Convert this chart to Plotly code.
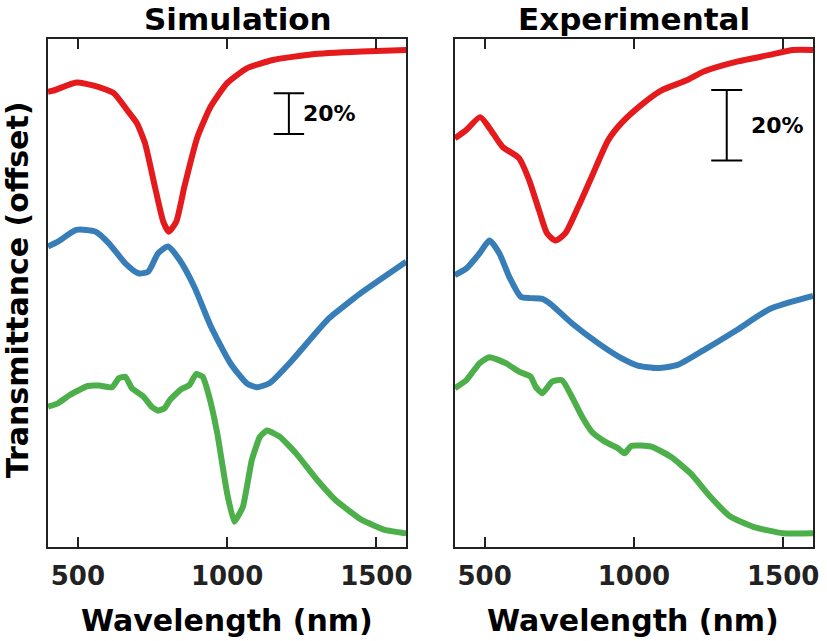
import plotly.graph_objects as go

# ---------------- data (transmittance %, offset per curve) ----------------
sim_red_nm = [400, 417, 495, 560, 621, 665, 698, 725, 758, 786, 805, 830, 857, 901, 945, 1000, 1066, 1154, 1286, 1451, 1600]
sim_red_T = [73.7, 74.2, 78.2, 76.5, 72.9, 64.7, 58.2, 48.4, 27.1, 9.9, 4.9, 9.9, 27.1, 51.6, 66.4, 77.9, 85.2, 89.3, 92.1, 93.4, 94.2]

sim_blue_nm = [400, 433, 495, 560, 604, 659, 703, 736, 769, 802, 841, 890, 945, 1011, 1066, 1099, 1143, 1209, 1286, 1341, 1418, 1451, 1600]
sim_blue_T = [72.6, 75.0, 80.8, 79.9, 74.2, 64.4, 59.5, 60.3, 69.3, 72.6, 66.0, 52.9, 33.6, 15.3, 5.4, 3.5, 5.6, 15.3, 28.3, 37.3, 46.4, 50.1, 65.2]

sim_green_nm = [400, 433, 473, 533, 571, 615, 637, 659, 681, 720, 747, 769, 791, 808, 846, 874, 896, 918, 940, 967, 1000, 1024, 1053, 1083, 1110, 1134, 1176, 1231, 1297, 1363, 1451, 1528, 1600]
sim_green_T = [68.9, 70.6, 74.7, 79.1, 79.3, 78.5, 82.9, 83.7, 78.0, 73.9, 68.9, 67.0, 68.2, 72.2, 77.5, 79.6, 85.0, 83.7, 73.9, 55.9, 26.4, 12.4, 19.8, 42.8, 54.2, 57.2, 54.2, 46.0, 33.8, 23.1, 13.3, 8.4, 6.7]

exp_red_nm = [400, 439, 485, 516, 560, 615, 649, 682, 709, 737, 770, 814, 859, 914, 958, 1024, 1091, 1179, 1234, 1345, 1455, 1533, 1600]
exp_red_T = [35.6, 38.0, 41.6, 38.5, 33.2, 30.0, 23.8, 15.3, 8.7, 6.7, 8.7, 16.3, 24.8, 35.1, 39.9, 45.0, 49.1, 52.1, 54.5, 57.3, 59.2, 60.6, 60.6]

exp_blue_nm = [400, 439, 483, 516, 549, 582, 621, 654, 693, 720, 792, 881, 958, 1013, 1080, 1146, 1234, 1345, 1455, 1600]
exp_blue_T = [36.9, 38.8, 43.1, 46.7, 43.1, 36.5, 30.8, 30.4, 30.2, 28.8, 23.3, 17.6, 13.4, 11.3, 10.6, 11.5, 15.7, 21.4, 27.3, 31.0]

exp_green_nm = [400, 439, 483, 516, 571, 615, 654, 671, 693, 726, 759, 792, 826, 859, 903, 947, 969, 991, 1058, 1124, 1190, 1256, 1323, 1400, 1499, 1600]
exp_green_T = [44.9, 47.2, 52.0, 53.7, 52.0, 49.6, 48.2, 45.3, 43.5, 46.8, 47.2, 42.5, 36.9, 32.6, 29.8, 27.9, 26.5, 28.6, 28.4, 25.5, 20.8, 14.2, 8.6, 5.7, 3.9, 3.9]

sim_offsets = {"red": 150, "blue": 75, "green": 0}
exp_offsets = {"red": 80, "blue": 40, "green": 0}

x_ticks = [500, 1000, 1500]
x_range = [400, 1600]
sim_y_range = [0, 249.6]
exp_y_range = [0, 143.7]
scale_bar = 20  # %

COLORS = {"red": "#E41A1C", "blue": "#377EB8", "green": "#4DAF4A"}
AX = "#222222"
FONT = "DejaVu Sans"

fig = go.Figure()

def add(nm, T, off, color, xa, ya, smooth, width):
    fig.add_trace(go.Scatter(
        x=nm, y=[t + off for t in T], mode="lines",
        line=dict(color=color, width=width, shape="spline", smoothing=smooth),
        xaxis=xa, yaxis=ya, showlegend=False, hoverinfo="skip"))

add(sim_red_nm, sim_red_T, sim_offsets["red"], COLORS["red"], "x", "y", 0.5, 6)
add(sim_blue_nm, sim_blue_T, sim_offsets["blue"], COLORS["blue"], "x", "y", 0.6, 6)
add(sim_green_nm, sim_green_T, sim_offsets["green"], COLORS["green"], "x", "y", 0.4, 6)
add(exp_red_nm, exp_red_T, exp_offsets["red"], COLORS["red"], "x2", "y2", 0.6, 6)
add(exp_blue_nm, exp_blue_T, exp_offsets["blue"], COLORS["blue"], "x2", "y2", 0.6, 6)
add(exp_green_nm, exp_green_T, exp_offsets["green"], COLORS["green"], "x2", "y2", 0.5, 6)

xcommon = dict(range=x_range, tickvals=x_ticks, ticks="inside", ticklen=10, tickwidth=2,
               tickcolor=AX, showline=True, linecolor=AX, linewidth=2, mirror="ticks",
               showgrid=False, zeroline=False, ticklabelstandoff=5,
               tickfont=dict(family=FONT, size=26, color=AX, weight="bold"))
ycommon = dict(showticklabels=False, ticks="", showline=True, linecolor=AX, linewidth=2,
               mirror=True, showgrid=False, zeroline=False)

L, R, T, B = 48, 8, 39, 94
W, H = 827, 641
pw = W - L - R
ph = H - T - B
def px(xp):
    return (xp - L) / pw
def py(yp):
    return (H - B - yp) / ph

fig.update_layout(
    width=W, height=H, margin=dict(l=L, r=R, t=T, b=B),
    paper_bgcolor="white", plot_bgcolor="white",
    xaxis=dict(domain=[0, px(409)], **xcommon),
    xaxis2=dict(domain=[px(458), 1], anchor="y2", **xcommon),
    yaxis=dict(domain=[0, 1], range=sim_y_range, **ycommon),
    yaxis2=dict(domain=[0, 1], range=exp_y_range, anchor="x2", **ycommon),
)

# scale bars
def bar(xa, ya, xc, half, y0):
    fig.add_shape(type="line", xref=xa, yref=ya, x0=xc, x1=xc, y0=y0, y1=y0 + scale_bar,
                  line=dict(color="black", width=2))
    for yy in (y0, y0 + scale_bar):
        fig.add_shape(type="line", xref=xa, yref=ya, x0=xc - half, x1=xc + half, y0=yy, y1=yy,
                      line=dict(color="black", width=2))

bar("x", "y", 1207, 51, 202.9)
bar("x2", "y2", 1311, 52, 109.3)

tf = dict(family=FONT, color="black", weight="bold")
fig.add_annotation(x=1249, y=212.9, xref="x", yref="y", text=f"{scale_bar}%", showarrow=False,
                   xanchor="left", yanchor="middle", font=dict(size=22, **tf))
fig.add_annotation(x=1387, y=119.3, xref="x2", yref="y2", text=f"{scale_bar}%", showarrow=False,
                   xanchor="left", yanchor="middle", font=dict(size=22, **tf))

# titles
fig.add_annotation(x=px(239), y=py(19), xref="paper", yref="paper", text="Simulation",
                   showarrow=False, xanchor="center", yanchor="middle", font=dict(size=31, **tf))
fig.add_annotation(x=px(639), y=py(19), xref="paper", yref="paper", text="Experimental",
                   showarrow=False, xanchor="center", yanchor="middle", font=dict(size=31, **tf))
fig.add_annotation(x=px(228), y=py(620), xref="paper", yref="paper", text="Wavelength (nm)",
                   showarrow=False, xanchor="center", yanchor="middle", font=dict(size=30, **tf))
fig.add_annotation(x=px(638), y=py(620), xref="paper", yref="paper", text="Wavelength (nm)",
                   showarrow=False, xanchor="center", yanchor="middle", font=dict(size=30, **tf))
fig.add_annotation(x=px(17), y=py(290), xref="paper", yref="paper", text="Transmittance (offset)",
                   showarrow=False, xanchor="center", yanchor="middle", textangle=-90,
                   font=dict(size=30, **tf))

fig.write_html("out.html", config={"displayModeBar": False, "staticPlot": True},
               post_script="document.body.style.margin='0';document.body.style.overflow='hidden';")
